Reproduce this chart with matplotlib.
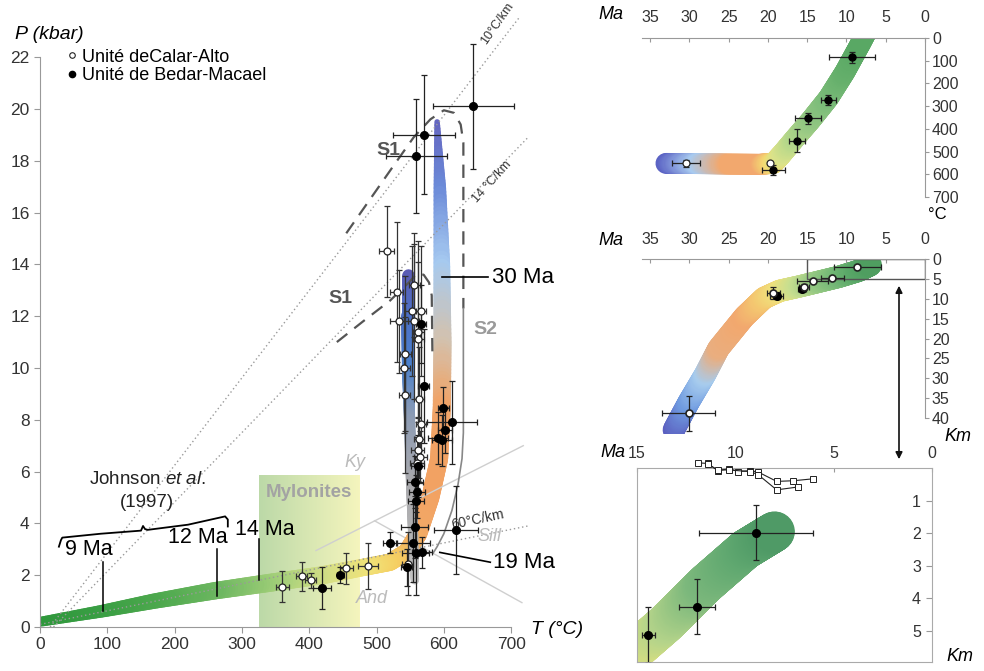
import numpy as np
import matplotlib
matplotlib.use('Agg')
import matplotlib.pyplot as plt
from matplotlib.collections import LineCollection
from matplotlib.colors import LinearSegmentedColormap
from matplotlib.lines import Line2D
from matplotlib.patches import Rectangle, FancyArrowPatch

plt.rcParams['font.family'] = ['Liberation Sans', 'DejaVu Sans']
plt.rcParams['mathtext.fontset'] = 'custom'
plt.rcParams['mathtext.rm'] = 'Liberation Sans'
plt.rcParams['mathtext.it'] = 'Liberation Sans:italic'

# ---- main P-T diagram : Calar-Alto (open) ----
calar_T = [515, 530, 556, 553, 566, 533, 555, 562, 543, 541, 542, 562, 563, 566, 563, 561, 565, 560,
           546, 487, 455, 402, 389, 360]
calar_P = [14.5, 12.95, 13.2, 12.2, 12.2, 11.8, 11.8, 11.4, 10.55, 10.0, 8.96, 11.1, 8.8, 7.85, 7.25,
           6.85, 6.55, 6.35, 2.45, 2.35, 2.27, 1.8, 1.95, 1.55]
calar_Terr = [11, 10, 8, 10, 8, 13, 8, 8, 8, 8, 8, 8, 8, 8, 8, 10, 10, 10, 8, 15, 10, 8, 8, 10]
calar_Perr = [1.75, 2.7, 2.0, 2.5, 2.5, 2.0, 3.0, 3.5, 3.0, 2.5, 3.0, 3.0, 2.0, 1.5, 1.5, 1.2, 1.0, 1.0,
              1.2, 0.9, 0.6, 0.3, 0.55, 0.6]

# ---- main P-T diagram : Bedar-Macael (filled) ----
bedar_T = [644, 571, 559, 566, 570, 561, 557, 560, 558, 557, 554, 558, 568, 545, 520, 599, 602, 612,
           591, 597, 618, 446, 419]
bedar_P = [20.1, 19.0, 18.2, 11.7, 9.3, 6.2, 5.6, 5.2, 4.85, 3.85, 3.25, 2.85, 2.88, 2.3, 3.25, 8.45,
           7.6, 7.9, 7.3, 7.2, 3.75, 2.0, 1.5]
bedar_Terr = [60, 46, 45, 8, 8, 10, 12, 12, 12, 20, 25, 20, 15, 8, 10, 8, 10, 37, 15, 15, 32, 5, 13]
bedar_Perr = [2.4, 2.3, 2.2, 1.5, 2.2, 1.2, 1.0, 1.0, 1.0, 1.2, 1.5, 1.6, 0.6, 0.7, 0.4, 0.8, 0.9, 1.6,
              1.0, 1.0, 1.7, 0.3, 0.8]

# P-T paths (bands)
s2_T = [590, 594, 597, 598, 597, 593, 580, 562, 545, 520, 480, 420, 340, 260, 170, 90, 0]
s2_P = [19.5, 17.0, 14.0, 11.0, 8.5, 6.5, 5.0, 3.6, 2.9, 2.5, 2.3, 2.0, 1.7, 1.4, 1.0, 0.6, 0.2]
s2_col = ['#6466c0', '#6b8ad8', '#a6caf0', '#d2c2b0', '#f0a468', '#f2a263', '#f2a263', '#f2a866',
          '#f4b860', '#f5cf62', '#f1e278', '#d5df86', '#9fce78', '#6fb862', '#4ea94e', '#3b9f44', '#2f983c']
s2_w = [4, 9, 12, 13, 13, 13, 13, 13, 12.5, 12.5, 12.5, 13, 13, 12.5, 11, 9, 7]

s1_T = [546, 546, 547, 549, 552, 555, 557]
s1_P = [13.6, 12.0, 10.0, 8.0, 5.5, 3.0, 1.8]
s1_col = ['#5c5cb4', '#4d6ec4', '#4a80cc', '#8d9cb4', '#a9a9ad', '#b4b4b4', '#c4c4c4']
s1_w = [9, 9, 9, 8, 8, 7, 6]

# dashed / solid envelopes
s1_outer_T = [455, 490, 525, 555, 580, 600, 615, 625, 629, 629]
s1_outer_P = [15.2, 16.5, 17.8, 18.9, 19.6, 19.95, 19.85, 19.4, 18.7, 12.3]
s1_inner_T = [441, 480, 520, 548, 560, 570, 578, 582, 583]
s1_inner_P = [11.0, 11.8, 12.6, 13.3, 13.65, 13.6, 13.3, 12.8, 10.5]
s2_line_T = [629, 629, 627, 621, 612, 600, 590, 584]
s2_line_P = [12.3, 7.5, 6.5, 5.5, 4.5, 3.6, 3.1, 2.85]

# geotherms and aluminosilicate lines
geo10_T, geo10_P = [15, 720], [0, 23.8]
geo14_T, geo14_P = [20, 725], [0, 18.9]
geo60_T, geo60_P = [0, 725], [0.1, 3.9]
kysill_T, kysill_P = [410, 718], [2.95, 7.0]
andsill_T, andsill_P = [497, 716], [4.1, 0.94]

# age markers along the path
age_lab = ['9 Ma', '12 Ma', '14 Ma']
age_T = [93, 263, 325]
age_top = [2.5, 3.0, 3.38]
age_bot = [0.6, 1.18, 1.83]
age_text_T = [73, 235, 334]
age_text_P = [3.0, 3.45, 3.77]

# ---- panel A : T vs age ----
a_age = [9.3, 12.3, 14.9, 16.3, 19.3, 30.4]
a_T = [85, 273, 354, 452, 581, 552]
a_age_err = [2.9, 1.0, 1.6, 1.0, 1.5, 1.8]
a_T_err = [25, 20, 23, 51, 20, 15]
a_open_age, a_open_T = [19.7], [552]
a_band_x = [33, 29, 25, 21, 19.3, 18.2, 16.5, 14.5, 12.3, 10.2, 8.3, 7.4]
a_band_y = [552, 553, 555, 556, 552, 510, 440, 360, 265, 150, 30, -30]
a_band_c = ['#5b63c4', '#a9cbf0', '#f2a86e', '#f2a86e', '#f3dc72', '#dbe38a', '#b5d78a', '#95c883',
            '#7dbd7a', '#66b06c', '#59a864', '#59a864']

# ---- panel B : depth vs age ----
b_age_open = [8.6, 11.8, 14.3, 15.4, 19.3, 30.1]
b_km_open = [2.1, 4.9, 5.5, 7.0, 8.6, 38.8]
b_age_open_err = [3.0, 1.5, 2.0, 0.6, 0.8, 3.4]
b_km_open_err = [0, 0, 0, 0.8, 1.5, 4.4]
b_age_full = [15.7, 18.9]
b_km_full = [7.6, 9.2]
b_band_x = [32.0, 30.1, 28.0, 26.3, 23.0, 20.5, 18.5, 16.0, 13.7, 11.0, 8.5, 6.9]
b_band_y = [43.0, 36.0, 29.0, 22.5, 14.5, 9.8, 8.0, 6.9, 5.8, 4.5, 3.0, 1.5]
b_band_c = ['#5b5fc0', '#6f9ae0', '#a7ccee', '#e9ae80', '#f2a86e', '#f4c970', '#f0e07c', '#c8df90',
            '#9acb84', '#78ba78', '#5aa868', '#4f9e60']

# ---- panel C : zoom 0-15 Ma ----
c_age = [8.95, 11.96, 14.42]
c_km = [1.98, 4.25, 5.12]
c_age_err = [2.9, 0.9, 0.34]
c_km_err = [0.85, 0.85, 0.85]
c_sq1_x = [11.9, 11.4, 10.9, 10.3, 9.85, 9.25, 8.85, 7.9, 7.05, 6.03]
c_sq1_y = [-0.16, -0.14, 0.08, 0.02, 0.11, 0.08, 0.12, 0.41, 0.39, 0.33]
c_sq2_x = [11.4, 10.9, 10.3, 9.25, 8.85, 7.9, 6.8]
c_sq2_y = [-0.12, 0.06, 0.06, 0.11, 0.2, 0.67, 0.58]
c_band_x = [15.6, 13.5, 11.5, 9.5, 8.0]
c_band_y = [5.85, 4.75, 3.55, 2.5, 1.95]
c_band_c = ['#eee57c', '#b5d48a', '#7cb87c', '#60a870', '#4f9a66']


def band(ax, xs, ys, cols, widths, z=1, n=300):
    t = np.linspace(0, 1, len(xs))
    tt = np.linspace(0, 1, n)
    x = np.interp(tt, t, xs)
    y = np.interp(tt, t, ys)
    w = np.interp(tt, t, widths)
    cmap = LinearSegmentedColormap.from_list('band', list(zip(t, cols)))
    pts = np.column_stack([x, y]).reshape(-1, 1, 2)
    segs = np.concatenate([pts[:-1], pts[1:]], axis=1)
    lc = LineCollection(segs, colors=cmap(tt[:-1]), linewidths=w[:-1],
                        capstyle='round', joinstyle='round', zorder=z)
    ax.add_collection(lc)


fig = plt.figure(figsize=(9.84, 6.71), dpi=100)

# ======================= main panel =======================
ax = fig.add_axes([0.0407, 0.0656, 0.5027, 0.9071])
ax.set_xlim(0, 735)
ax.set_ylim(0, 23.5)
for s in ['top', 'right']:
    ax.spines[s].set_visible(False)
ax.spines['left'].set_bounds(0, 22)
ax.spines['bottom'].set_bounds(0, 700)
for s in ['left', 'bottom']:
    ax.spines[s].set_color('#999999')
ax.set_xticks(range(0, 701, 100))
ax.set_yticks(range(0, 23, 2))
ax.tick_params(colors='#999999', labelcolor='#333333', labelsize=12.5, length=4)

# mylonites box with horizontal gradient
grad = np.linspace(0, 1, 100).reshape(1, -1)
myl_cmap = LinearSegmentedColormap.from_list('myl', ['#bcd9a8', '#f5f5bd'])
ax.imshow(grad, extent=[325, 475, 0, 5.85], aspect='auto', cmap=myl_cmap, zorder=0.5)
ax.text(400, 5.2, 'Mylonites', ha='center', va='center', fontsize=13.5, fontweight='bold',
        color='#a3a3a3', zorder=0.6)

band(ax, s2_T, s2_P, s2_col, s2_w, z=1)
band(ax, s1_T, s1_P, s1_col, s1_w, z=1.2)

ax.plot(geo10_T, geo10_P, ls=(0, (1, 2)), color='#9a9a9a', lw=1, zorder=2)
ax.plot(geo14_T, geo14_P, ls=(0, (1, 2)), color='#9a9a9a', lw=1, zorder=2)
ax.plot(geo60_T, geo60_P, ls=(0, (1, 2)), color='#9a9a9a', lw=1, zorder=2)
ax.plot(kysill_T, kysill_P, color='#cfcfcf', lw=1, zorder=1.5)
ax.plot(andsill_T, andsill_P, color='#cfcfcf', lw=1, zorder=0.8)

ax.plot(s1_outer_T, s1_outer_P, color='#555555', lw=1.6, ls=(0, (6, 4)), zorder=2.5)
ax.plot(s1_inner_T, s1_inner_P, color='#555555', lw=1.6, ls=(0, (6, 4)), zorder=2.5)
ax.plot(s2_line_T, s2_line_P, color='#888888', lw=1.2, zorder=2.5)

ax.errorbar(calar_T, calar_P, xerr=calar_Terr, yerr=calar_Perr, fmt='none', ecolor='#333333',
            elinewidth=0.9, capsize=2.5, capthick=0.9, zorder=3)
ax.errorbar(bedar_T, bedar_P, xerr=bedar_Terr, yerr=bedar_Perr, fmt='none', ecolor='#222222',
            elinewidth=0.9, capsize=2.5, capthick=0.9, zorder=3)
ax.plot(calar_T, calar_P, 'o', ms=5, mfc='white', mec='#222222', mew=0.9, ls='none', zorder=4)
ax.plot(bedar_T, bedar_P, 'o', ms=5.5, mfc='black', mec='black', ls='none', zorder=4)

# annotations
ax.text(680, 23.3, '10°C/km', rotation=55, ha='center', va='center', fontsize=9, color='#333333')
ax.text(672, 17.2, '14 °C/km', rotation=48, ha='center', va='center', fontsize=9, color='#333333')
ax.text(650, 4.15, '60°C/km', rotation=12, ha='center', va='center', fontsize=10, color='#333333')
ax.text(468, 6.35, 'Ky', style='italic', ha='center', va='center', fontsize=13, color='#bbbbbb')
ax.text(668, 3.5, 'Sill', style='italic', ha='center', va='center', fontsize=13, color='#bbbbbb')
ax.text(493, 1.1, 'And', style='italic', ha='center', va='center', fontsize=13, color='#bbbbbb')
ax.text(517, 18.4, 'S1', ha='center', va='center', fontsize=14, fontweight='bold', color='#555555')
ax.text(446, 12.7, 'S1', ha='center', va='center', fontsize=14, fontweight='bold', color='#555555')
ax.text(662, 11.5, 'S2', ha='center', va='center', fontsize=14, fontweight='bold', color='#9a9a9a')

ax.plot([597, 666], [13.5, 13.5], color='black', lw=1.2, zorder=3)
ax.text(672, 13.5, '30 Ma', ha='left', va='center', fontsize=16)
ax.plot([594, 669], [2.88, 2.5], color='black', lw=1.2, zorder=3)
ax.text(673, 2.5, '19 Ma', ha='left', va='center', fontsize=16)

for lab, t, top, bot, tx, ty in zip(age_lab, age_T, age_top, age_bot, age_text_T, age_text_P):
    ax.plot([t, t], [bot, top], color='black', lw=1.1, zorder=3)
    ax.text(tx, ty, lab, ha='center', va='center', fontsize=15.5)

# curly brace for Johnson et al.
brace_T = [28, 31, 33, 90, 150, 153, 156, 160, 220, 275, 279, 279]
brace_P = [3.1, 3.35, 3.45, 3.6, 3.72, 3.9, 3.78, 3.75, 3.95, 4.27, 4.15, 3.88]
ax.plot(brace_T, brace_P, color='black', lw=1.3, zorder=3)
ax.text(159, 5.7, r'Johnson $\mathit{et\ al.}$', ha='center', va='center', fontsize=13.5, color='#222222')
ax.text(159, 4.8, '(1997)', ha='center', va='center', fontsize=13.5, color='#222222')

handles = [Line2D([], [], marker='o', ls='none', ms=4, mfc='white', mec='#222222', mew=0.8),
           Line2D([], [], marker='o', ls='none', ms=4.5, mfc='black', mec='black')]
ax.legend(handles, ['Unité deCalar-Alto', 'Unité de Bedar-Macael'], loc='upper left',
          bbox_to_anchor=(0.035, 0.965), frameon=False, fontsize=13, handlelength=0.6,
          handletextpad=0.25, labelspacing=0.1, borderpad=0)

fig.text(0.015, 0.948, 'P (kbar)', style='italic', fontsize=14, ha='left', va='center')
fig.text(0.54, 0.062, 'T (°C)', style='italic', fontsize=14, ha='left', va='center')

# ======================= panel A =======================
axa = fig.add_axes([0.6528, 0.7064, 0.2872, 0.2370])
axa.set_xlim(36, 0)
axa.set_ylim(700, 0)
band(axa, a_band_x, a_band_y, a_band_c, [15] * len(a_band_x), z=1)
axa.errorbar(a_age, a_T, xerr=a_age_err, yerr=a_T_err, fmt='none', ecolor='#222222',
             elinewidth=0.9, capsize=2.5, capthick=0.9, zorder=3)
axa.plot(a_age[:5], a_T[:5], 'o', ms=5, mfc='black', mec='black', ls='none', zorder=4)
axa.plot([a_age[5]] + a_open_age, [a_T[5]] + a_open_T, 'o', ms=5, mfc='white', mec='#222222',
         mew=0.9, ls='none', zorder=4)

# ======================= panel B =======================
axb = fig.add_axes([0.6528, 0.3532, 0.2872, 0.2608])
axb.set_xlim(36, 0)
axb.set_ylim(44, 0)
band(axb, b_band_x, b_band_y, b_band_c, [16] * len(b_band_x), z=1)
axb.add_patch(Rectangle((0, 0), 15, 5, fill=False, ec='#555555', lw=1, zorder=2))
axb.errorbar(b_age_open, b_km_open, xerr=b_age_open_err, yerr=b_km_open_err, fmt='none',
             ecolor='#222222', elinewidth=0.9, capsize=2.5, capthick=0.9, zorder=3)
axb.errorbar(b_age_full, b_km_full, xerr=[0.5, 0.8], yerr=[0.6, 0.8], fmt='none',
             ecolor='#222222', elinewidth=0.9, capsize=2.5, capthick=0.9, zorder=3)
axb.plot(b_age_full, b_km_full, 'o', ms=5.5, mfc='black', mec='black', ls='none', zorder=4)
axb.plot(b_age_open, b_km_open, 'o', ms=5, mfc='white', mec='#222222', mew=1.2, ls='none', zorder=4)

for a, yt, ymax in [(axa, range(0, 701, 100), 700), (axb, range(0, 41, 5), 40)]:
    for s in ['bottom', 'left']:
        a.spines[s].set_visible(False)
    a.spines['top'].set_color('#999999')
    a.spines['right'].set_color('#999999')
    a.spines['right'].set_bounds(0, ymax)
    a.xaxis.tick_top()
    a.yaxis.tick_right()
    a.set_xticks(range(35, -1, -5))
    a.set_yticks(yt)
    a.tick_params(axis='x', direction='in', length=3, pad=9, colors='#999999',
                  labelcolor='#333333', labelsize=11.5)
    a.tick_params(axis='y', direction='out', length=3, pad=2, colors='#999999',
                  labelcolor='#333333', labelsize=11.5)

# ======================= panel C =======================
axc = fig.add_axes([0.6474, 0.0134, 0.2998, 0.2891])
axc.set_xlim(15, 0)
axc.set_ylim(5.95, 0)
band(axc, c_band_x, c_band_y, c_band_c, [29] * len(c_band_x), z=1)
axc.errorbar(c_age, c_km, xerr=c_age_err, yerr=c_km_err, fmt='none', ecolor='#222222',
             elinewidth=0.9, capsize=2.5, capthick=0.9, zorder=3)
axc.plot(c_age, c_km, 'o', ms=5.5, mfc='black', mec='black', ls='none', zorder=4)
axc.plot(c_sq1_x, c_sq1_y, 's-', color='#222222', ms=4, mfc='white', mew=0.7, lw=0.8,
         clip_on=False, zorder=4)
axc.plot(c_sq2_x, c_sq2_y, 's-', color='#222222', ms=4, mfc='white', mew=0.7, lw=0.8,
         clip_on=False, zorder=4)
for s in axc.spines.values():
    s.set_color('#aaaaaa')
axc.xaxis.tick_top()
axc.yaxis.tick_right()
axc.set_xticks([15, 10, 5, 0])
axc.set_yticks([1, 2, 3, 4, 5])
axc.tick_params(axis='x', direction='in', length=3, pad=5, colors='#999999',
                labelcolor='#333333', labelsize=11.5)
axc.tick_params(axis='y', direction='in', length=4, pad=-8, colors='#999999',
                labelcolor='#333333', labelsize=11.5)
for lbl in axc.get_yticklabels():
    lbl.set_horizontalalignment('right')

# axis captions of the right panels
fig.text(0.608, 0.978, 'Ma', style='italic', fontsize=13, ha='left', va='center')
fig.text(0.608, 0.641, 'Ma', style='italic', fontsize=13, ha='left', va='center')
fig.text(0.610, 0.326, 'Ma', style='italic', fontsize=13, ha='left', va='center')
fig.text(0.943, 0.680, '°C', fontsize=12, ha='left', va='center')
fig.text(0.960, 0.350, 'Km', style='italic', fontsize=13, ha='left', va='center')
fig.text(0.962, 0.021, 'Km', style='italic', fontsize=13, ha='left', va='center')

arrow = FancyArrowPatch((899 / 984, 1 - 283 / 671), (899 / 984, 1 - 462 / 671),
                        transform=fig.transFigure, arrowstyle='<|-|>', mutation_scale=10,
                        lw=1.2, color='#111111')
fig.add_artist(arrow)

fig.savefig('out.png', dpi=100)
